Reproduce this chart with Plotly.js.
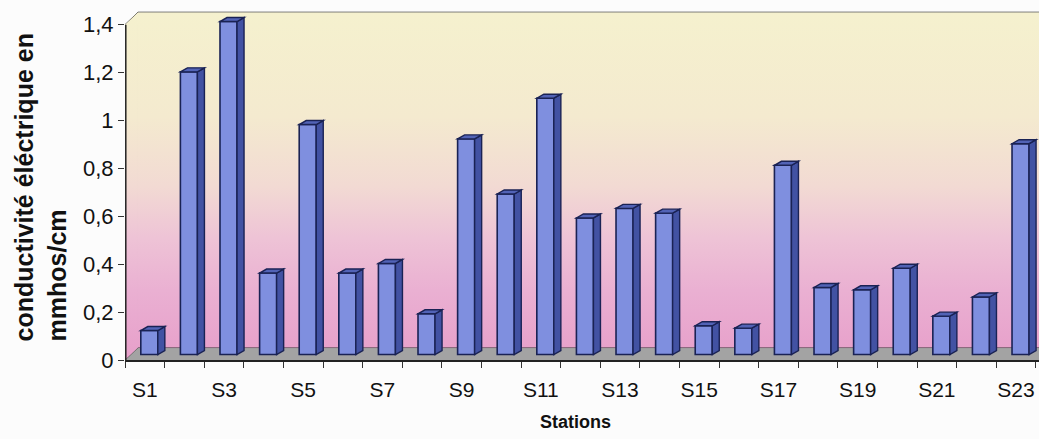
<!DOCTYPE html>
<html>
<head>
<meta charset="utf-8">
<script src="https://cdn.plot.ly/plotly-3.0.1.min.js"></script>
<style>
  html, body { margin: 0; padding: 0; background: #fcfcfc; }
  #chart { width: 1039px; height: 439px; }
</style>
</head>
<body>
<div id="chart"></div>
<script>
// Stations and measured electrical conductivity (mmhos/cm)
const stations = ['S1','S2','S3','S4','S5','S6','S7','S8','S9','S10','S11','S12',
                  'S13','S14','S15','S16','S17','S18','S19','S20','S21','S22','S23'];
const conductivity = [0.10, 1.18, 1.39, 0.34, 0.96, 0.34, 0.38, 0.17, 0.90, 0.67, 1.07, 0.57,
                      0.61, 0.59, 0.12, 0.11, 0.79, 0.28, 0.27, 0.36, 0.16, 0.24, 0.88];
const yTickValues = [0, 0.2, 0.4, 0.6, 0.8, 1, 1.2, 1.4];
const yTickLabels = ['0', '0,2', '0,4', '0,6', '0,8', '1', '1,2', '1,4'];

// pseudo-3D geometry (in axis units)
const X0 = -0.5;            // front-left corner of the floor
const XR = 23.2;            // beyond the right edge of the plot
const depthX = 0.328;       // wall depth, horizontal
const depthY = 0.052;       // wall depth, vertical
const yMax = yTickValues[yTickValues.length - 1];
const wallTop = yMax + depthY;
const barBase = 0.023;      // bars stand mid-depth on the floor
const barWidth = 0.43;
const barOffset = -0.101;
const sideX = 0.177, sideY = 0.0167;

const idx = stations.map((_, i) => i);

// gradient for the back and side walls, as an SVG image laid under the bars
function wallImage() {
  const sx = x => ((x - X0) * 100).toFixed(2);
  const sy = y => ((wallTop - y) * 100).toFixed(2);
  const W = ((XR - X0) * 100).toFixed(2), H = (wallTop * 100).toFixed(2);
  const grad = '<linearGradient id="g" gradientUnits="userSpaceOnUse" x1="0" y1="0" x2="0" y2="' + H + '">' +
    '<stop offset="0" stop-color="#f5f1ce"/>' +
    '<stop offset="0.3" stop-color="#f4eacf"/>' +
    '<stop offset="0.5" stop-color="#f2dad3"/>' +
    '<stop offset="0.65" stop-color="#eec3d6"/>' +
    '<stop offset="0.8" stop-color="#eab0d2"/>' +
    '<stop offset="1" stop-color="#e79fca"/></linearGradient>';
  const side = [[X0, 0], [X0, yMax], [X0 + depthX, wallTop], [X0 + depthX, depthY]]
    .map(p => sx(p[0]) + ',' + sy(p[1])).join(' ');
  const back = [[X0 + depthX, depthY], [X0 + depthX, wallTop], [XR, wallTop], [XR, depthY]]
    .map(p => sx(p[0]) + ',' + sy(p[1])).join(' ');
  const svg = '<svg xmlns="http://www.w3.org/2000/svg" width="' + W + '" height="' + H +
    '" viewBox="0 0 ' + W + ' ' + H + '" preserveAspectRatio="none"><defs>' + grad + '</defs>' +
    '<polygon points="' + side + '" fill="url(#g)"/>' +
    '<polygon points="' + back + '" fill="url(#g)"/></svg>';
  return 'data:image/svg+xml;charset=utf-8,' + encodeURIComponent(svg);
}

const shapes = [];
// floor
shapes.push({
  type: 'path', xref: 'x', yref: 'y', layer: 'below',
  path: `M ${X0},0 L ${X0 + depthX},${depthY} L ${XR},${depthY} L ${XR},0 Z`,
  fillcolor: '#a3a3a3', line: { width: 0 }
});
// wall gridlines and their diagonals on the side wall
yTickValues.forEach(v => {
  shapes.push({
    type: 'line', xref: 'x', yref: 'y', layer: 'below',
    x0: X0 + depthX, x1: XR, y0: v + depthY, y1: v + depthY,
    line: { color: '#2b2b2b', width: 1 }
  });
  shapes.push({
    type: 'line', xref: 'x', yref: 'y', layer: 'below',
    x0: X0, x1: X0 + depthX, y0: v, y1: v + depthY,
    line: { color: '#2b2b2b', width: 1 }
  });
});
// corner edge between side and back walls
shapes.push({
  type: 'line', xref: 'x', yref: 'y', layer: 'below',
  x0: X0 + depthX, x1: X0 + depthX, y0: depthY, y1: wallTop,
  line: { color: '#555', width: 1 }
});
// front value axis line
shapes.push({
  type: 'line', xref: 'x', yref: 'y', layer: 'above',
  x0: X0 + 0.02, x1: X0 + 0.02, y0: 0, y1: yMax,
  line: { color: '#222', width: 1.5 }
});
// side and top faces of each column
conductivity.forEach((v, i) => {
  const xl = i + barOffset, xr = xl + barWidth;
  const yb = barBase, yt = barBase + v;
  shapes.push({
    type: 'path', xref: 'x', yref: 'y', layer: 'above',
    path: `M ${xr},${yb} L ${xr},${yt} L ${xr + sideX},${yt + sideY} L ${xr + sideX},${yb + sideY} Z`,
    fillcolor: '#4252a3', line: { color: '#1a2254', width: 1.4 }
  });
  shapes.push({
    type: 'path', xref: 'x', yref: 'y', layer: 'above',
    path: `M ${xl},${yt} L ${xr},${yt} L ${xr + sideX},${yt + sideY} L ${xl + sideX},${yt + sideY} Z`,
    fillcolor: '#5263b6', line: { color: '#1a2254', width: 1.4 }
  });
});

const boundaries = [];
for (let i = 0; i <= stations.length; i++) boundaries.push(i - 0.5);
const labelIdx = idx.filter(i => i % 2 === 0);

const font = 'Liberation Sans, Arial, sans-serif';

const data = [{
  type: 'bar',
  x: idx,
  y: conductivity,
  base: barBase,
  width: barWidth,
  offset: barOffset,
  marker: { color: '#7f8fdf', line: { color: '#1a2254', width: 1.6 } },
  hoverinfo: 'skip'
}];

const layout = {
  width: 1039, height: 439,
  margin: { l: 125, r: 0, t: 0, b: 79 },
  paper_bgcolor: '#fcfcfc',
  plot_bgcolor: 'rgba(0,0,0,0)',
  showlegend: false,
  separators: ', ',
  font: { family: font, color: '#111' },
  xaxis: {
    range: [X0, 22.58],
    tickmode: 'array',
    tickvals: labelIdx,
    ticktext: labelIdx.map(i => stations[i]),
    ticks: 'outside', ticklen: 6, tickcolor: 'rgba(0,0,0,0)',
    ticklabelstandoff: 4,
    tickfont: { size: 21, color: '#111' },
    minor: { tickmode: 'array', tickvals: boundaries, ticks: 'outside', ticklen: 6, tickwidth: 1, tickcolor: '#333' },
    showline: true, linecolor: '#222', linewidth: 1.5,
    showgrid: false, zeroline: false, fixedrange: true
  },
  yaxis: {
    range: [0, 1.503],
    tickmode: 'array',
    tickvals: yTickValues,
    ticktext: yTickLabels,
    ticks: 'outside', ticklen: 6, tickwidth: 1, tickcolor: '#333',
    tickfont: { size: 22, color: '#111' },
    showline: false, showgrid: false, zeroline: false, fixedrange: true
  },
  images: [{
    source: wallImage(), xref: 'x', yref: 'y',
    x: X0, y: wallTop, sizex: XR - X0, sizey: wallTop,
    xanchor: 'left', yanchor: 'top', sizing: 'stretch', layer: 'below'
  }],
  shapes: shapes,
  annotations: [
    {
      text: 'conductivité éléctrique en<br>mmhos/cm',
      xref: 'paper', yref: 'paper', x: -0.092, y: 0.479,
      xanchor: 'center', yanchor: 'middle', textangle: -90, align: 'left',
      showarrow: false, font: { size: 25, weight: 'bold', family: font, color: '#111' }
    },
    {
      text: 'Stations',
      xref: 'paper', yref: 'paper', x: 0.4934, y: -0.172,
      xanchor: 'center', yanchor: 'middle',
      showarrow: false, font: { size: 18, weight: 'bold', family: font, color: '#111' }
    }
  ]
};

Plotly.newPlot('chart', data, layout, { staticPlot: true, displayModeBar: false });
</script>
</body>
</html>
